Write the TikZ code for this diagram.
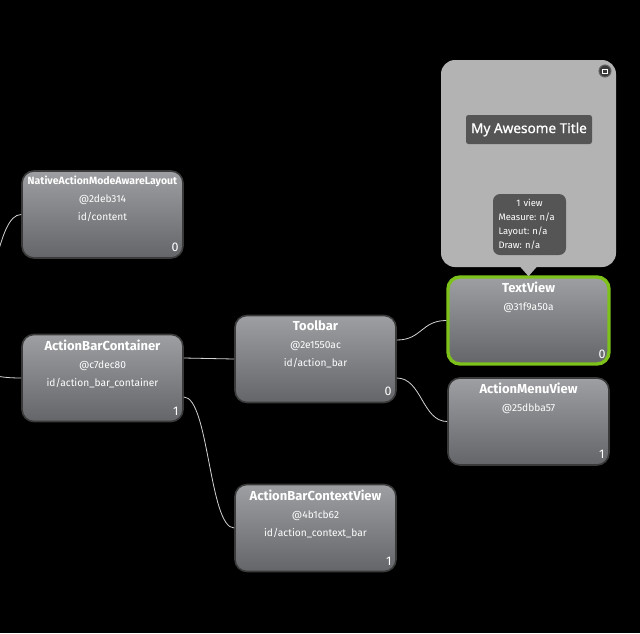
\documentclass[tikz,border=0pt]{standalone}
\usepackage{fontspec}
\setmainfont{Fira Sans}
\newfontfamily\titlefont[UprightFeatures={FakeBold=0.8}]{Noto Sans}
\usetikzlibrary{positioning}
\frenchspacing

\definecolor{boxtop}{HTML}{9E9FA2}
\definecolor{boxbot}{HTML}{646568}
\definecolor{boxedge}{HTML}{3A3A3B}
\definecolor{selgreen}{HTML}{7DC11B}
\definecolor{wiregrey}{HTML}{D2D2D2}
\definecolor{popgrey}{HTML}{B3B3B3}
\definecolor{tagdark}{HTML}{555555}

\tikzset{
	viewbox/.style={rounded corners=12pt, minimum width=161pt, minimum height=87pt,
		draw=boxedge, line width=1.6pt, top color=boxtop, bottom color=boxbot},
	selected/.style={draw=selgreen, line width=3.4pt},
	viewtext/.style={anchor=north, align=center, text=white, inner sep=0pt,
		yshift=-6pt, font=\fontsize{10.2}{18}\selectfont},
	viewidx/.style={anchor=south east, text=white, inner sep=0pt,
		xshift=-5pt, yshift=7pt, font=\fontsize{12.5}{12}\selectfont},
	wire/.style={draw=wiregrey, line width=0.8pt}
}

\begin{document}
\begin{tikzpicture}[x=1pt, y=-1pt]
	\useasboundingbox (0,0) rectangle (640,633);
	\fill[black] (0,0) rectangle (640,633);
	\clip (0,0) rectangle (640,633);

	% views
	\node[viewbox] (namal) at (102.5,214.5) {};
	\node[viewbox] (abc) at (102.5,378) {};
	\node[viewbox] (toolbar) at (315.5,359) {};
	\node[viewbox] (abcv) at (315.5,528) {};
	\node[viewbox, selected] (textview) at (528.5,320.5) {};
	\node[viewbox] (amv) at (528.5,421.5) {};

	\node[viewtext] (namal-t) at (namal.north) {{\bfseries\fontsize{10.5}{18}\selectfont NativeActionModeAwareLayout}\\@2deb314\\id/content};
	\node[viewtext] (abc-t) at (abc.north) {{\bfseries\fontsize{13}{18}\selectfont ActionBarContainer}\\@c7dec80\\id/action\_bar\_container};
	\node[viewtext] (toolbar-t) at (toolbar.north) {{\bfseries\fontsize{13}{18}\selectfont Toolbar}\\@2e1550ac\\id/action\_bar};
	\node[viewtext] (abcv-t) at (abcv.north) {{\bfseries\fontsize{13}{18}\selectfont ActionBarContextView}\\@4b1cb62\\id/action\_context\_bar};
	\node[viewtext] (textview-t) at (textview.north) {{\bfseries\fontsize{13}{18}\selectfont TextView}\\@31f9a50a};
	\node[viewtext] (amv-t) at (amv.north) {{\bfseries\fontsize{13}{18}\selectfont ActionMenuView}\\@25dbba57};

	\node[viewidx] (namal-i) at (namal.south east) {0};
	\node[viewidx] (abc-i) at (abc.south east) {1};
	\node[viewidx] (toolbar-i) at (toolbar.south east) {0};
	\node[viewidx] (abcv-i) at (abcv.south east) {1};
	\node[viewidx] (textview-i) at (textview.south east) {0};
	\node[viewidx] (amv-i) at (amv.south east) {1};

	% parent off the left edge
	\coordinate (p1) at (-29,304);
	\coordinate (p2) at (-29,374);

	\draw[wire] (p1) .. controls +(25,0) and +(-25,0) .. (namal.west);
	\draw[wire] (p2) .. controls +(25,0) and +(-25,0) .. (abc.west);
	\draw[wire] ([yshift=20pt]abc.east) .. controls +(25,0) and +(-25,0) .. (toolbar.west);
	\draw[wire] ([yshift=-19pt]abc.east) .. controls +(25,0) and +(-25,0) .. (abcv.west);
	\draw[wire] ([yshift=19pt]toolbar.east) .. controls +(25,0) and +(-25,0) .. (textview.west);
	\draw[wire] ([yshift=-19pt]toolbar.east) .. controls +(25,0) and +(-25,0) .. (amv.west);

	% preview popup
	\node[fill=popgrey, rounded corners=14pt, minimum width=175pt, minimum height=207pt] (popup) at (528.5,163.5) {};
	\fill[popgrey] ([xshift=-8pt]popup.south) -- ([xshift=8pt]popup.south) -- ([yshift=-9pt]popup.south) -- cycle;
	\node[circle, fill=boxedge, draw=popgrey!55!black, line width=1pt, minimum size=12pt, inner sep=0pt] (pin) at (605,71) {};
	\draw[white, line width=0.8pt] ([xshift=-2.6pt, yshift=-2pt]pin.center) rectangle ([xshift=2.6pt, yshift=2pt]pin.center);
	\node[fill=tagdark, rounded corners=2.5pt, minimum width=126pt, minimum height=29pt, text=white,
		font=\titlefont\fontsize{13.6}{14}\selectfont] (title) at (529,129.5) {My Awesome Title};
	\node[fill=tagdark, rounded corners=7pt, minimum width=73pt, minimum height=61pt, text=white,
		align=left, text width=62pt, inner sep=4pt, font=\fontsize{9.4}{14}\selectfont] (info) at (529.5,224.5)
		{\makebox[\linewidth]{1 view}\\Measure: n/a\\Layout: n/a\\Draw: n/a};
\end{tikzpicture}
\end{document}
